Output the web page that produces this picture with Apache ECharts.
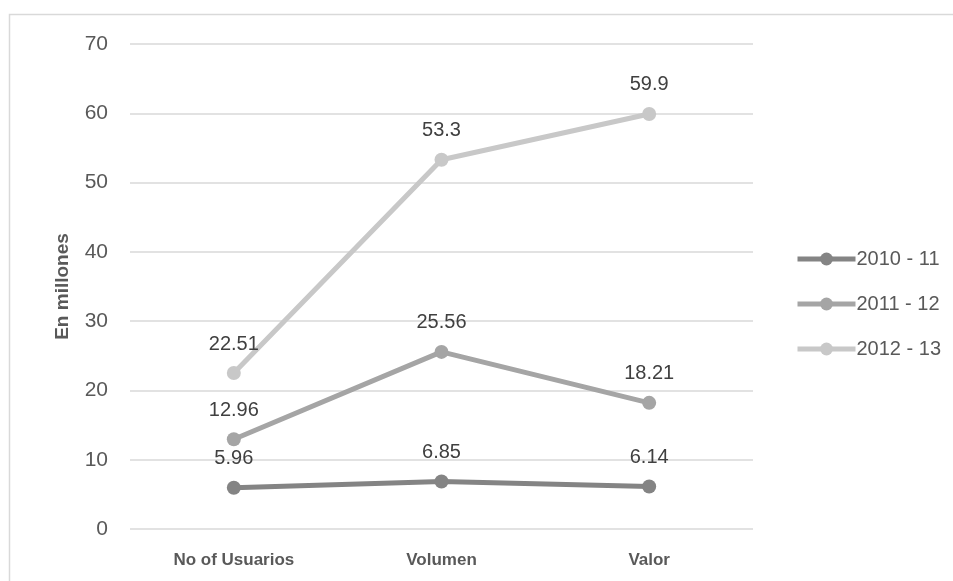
<!DOCTYPE html>
<html lang="es">
<head>
    <meta charset="UTF-8">
    <title>En millones</title>
    <script src="https://cdn.jsdelivr.net/npm/echarts@6/dist/echarts.min.js"></script>
    <style>
        html, body { margin: 0; padding: 0; background: #fff; }
        #chart { width: 953px; height: 581px; }
    </style>
</head>
<body>
    <div id="chart"></div>
    <script>
        // datos
        var categorias = ['No of Usuarios', 'Volumen', 'Valor'];
        var serie2010 = [5.96, 6.85, 6.14];
        var serie2011 = [12.96, 25.56, 18.21];
        var serie2012 = [22.51, 53.3, 59.9];
        var nombres = ['2010 - 11', '2011 - 12', '2012 - 13'];
        var colores = ['#848484', '#a5a5a5', '#c8c8c8'];

        var fuente = '"Liberation Sans", Arial, sans-serif';

        function serie(nombre, valores, color) {
            return {
                name: nombre,
                type: 'line',
                data: valores,
                symbol: 'circle',
                symbolSize: 14,
                lineStyle: { width: 5, color: color },
                itemStyle: { color: color },
                label: {
                    show: true,
                    position: 'top',
                    distance: 12,
                    color: '#404040',
                    fontSize: 20,
                    fontFamily: fuente
                },
                emphasis: { disabled: true },
                animation: false
            };
        }

        var myChart = echarts.init(document.getElementById('chart'));
        var option = {
            animation: false,
            grid: { left: 130, right: 200, top: 44, bottom: 52 },
            graphic: [
                {
                    type: 'polyline',
                    shape: { points: [[9.5, 581], [9.5, 14.5], [953, 14.5]] },
                    style: { stroke: '#d9d9d9', lineWidth: 1.5, fill: null }
                }
            ],
            legend: {
                orient: 'vertical',
                left: 790,
                top: 244,
                itemWidth: 58,
                itemHeight: 16,
                itemGap: 25,
                lineStyle: { width: 5 },
                textStyle: { color: '#595959', fontSize: 20, fontFamily: fuente, padding: [0, 0, 0, -4] },
                data: nombres
            },
            xAxis: {
                type: 'category',
                data: categorias,
                boundaryGap: true,
                axisLine: { show: false },
                axisTick: { show: false },
                axisLabel: {
                    color: '#595959',
                    fontSize: 17,
                    fontWeight: 'bold',
                    fontFamily: fuente,
                    margin: 23
                }
            },
            yAxis: {
                type: 'value',
                min: 0,
                max: 70,
                interval: 10,
                name: 'En millones',
                nameLocation: 'middle',
                nameGap: 58,
                nameTextStyle: { color: '#595959', fontSize: 19, fontWeight: 'bold', fontFamily: fuente },
                axisLine: { show: false },
                axisTick: { show: false },
                axisLabel: { color: '#595959', fontSize: 21, fontFamily: fuente, margin: 22 },
                splitLine: { lineStyle: { color: '#d9d9d9', width: 1.5 } }
            },
            series: [
                serie(nombres[0], serie2010, colores[0]),
                serie(nombres[1], serie2011, colores[1]),
                serie(nombres[2], serie2012, colores[2])
            ]
        };
        myChart.setOption(option);
    </script>
</body>
</html>
